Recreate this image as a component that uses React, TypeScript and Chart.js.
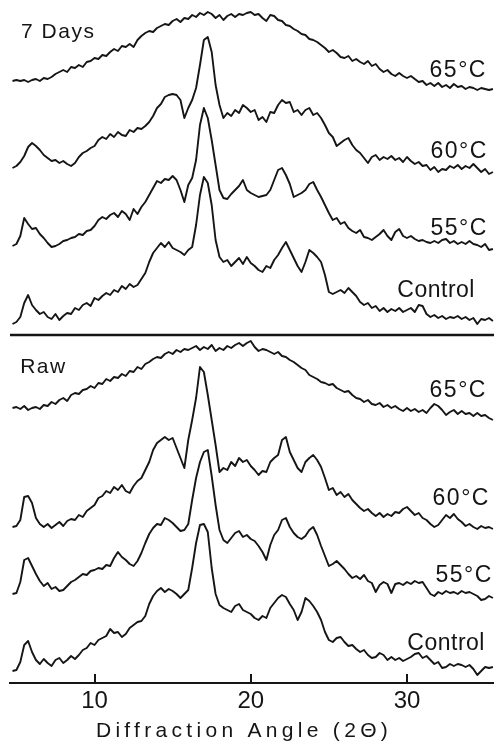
import { useEffect, useRef } from 'react';
import { Chart, registerables } from 'chart.js';

Chart.register(...registerables);

// Diffraction angle (2θ) sampling grid
const ANGLES = [
  4.75,
  5, 5.25, 5.5, 5.75, 6, 6.25, 6.5, 6.75, 7, 7.25, 7.5, 7.75, 8, 8.25, 8.5, 8.75,
  9, 9.25, 9.5, 9.75, 10, 10.25, 10.5, 10.75, 11, 11.25, 11.5, 11.75, 12, 12.25, 12.5, 12.75,
  13, 13.25, 13.5, 13.75, 14, 14.25, 14.5, 14.75, 15, 15.25, 15.5, 15.75, 16, 16.25, 16.5, 16.75,
  17, 17.25, 17.5, 17.75, 18, 18.25, 18.5, 18.75, 19, 19.25, 19.5, 19.75, 20, 20.25, 20.5, 20.75,
  21, 21.25, 21.5, 21.75, 22, 22.25, 22.5, 22.75, 23, 23.25, 23.5, 23.75, 24, 24.25, 24.5, 24.75,
  25, 25.25, 25.5, 25.75, 26, 26.25, 26.5, 26.75, 27, 27.25, 27.5, 27.75, 28, 28.25, 28.5, 28.75,
  29, 29.25, 29.5, 29.75, 30, 30.25, 30.5, 30.75, 31, 31.25, 31.5, 31.75, 32, 32.25, 32.5, 32.75,
  33, 33.25, 33.5, 33.75, 34, 34.25, 34.5, 34.75, 35, 35.25, 35.5,
];

// 7 days panel (relative intensity)
const DAYS7_65C = [
  14,
  15, 14, 15, 13, 15, 16, 14, 17, 16, 18, 21, 23, 25, 23, 28, 27,
  30, 28, 33, 34, 37, 36, 40, 39, 43, 46, 44, 49, 48, 51, 48, 55,
  59, 62, 64, 63, 67, 69, 71, 70, 74, 76, 73, 77, 76, 80, 78, 82,
  80, 83, 81, 77, 80, 75, 79, 81, 78, 81, 80, 82, 83, 80, 81, 77,
  74, 80, 79, 75, 74, 70, 69, 66, 64, 61, 60, 56, 55, 53, 50, 47,
  43, 45, 42, 38, 37, 39, 34, 36, 33, 31, 34, 29, 31, 26, 23, 25,
  21, 19, 22, 19, 17, 19, 16, 13, 14, 10, 12, 9, 12, 8, 10, 7,
  11, 8, 9, 6, 8, 7, 5, 7, 6, 5, 6,
];
const DAYS7_60C = [
  12,
  14, 18, 24, 33, 37, 34, 30, 25, 22, 19, 20, 17, 19, 16, 14, 17,
  23, 27, 29, 32, 34, 40, 43, 41, 46, 43, 48, 45, 44, 50, 48, 52,
  51, 54, 58, 64, 72, 76, 83, 85, 86, 85, 80, 62, 72, 80, 92, 115,
  140, 143, 128, 95, 75, 62, 67, 64, 70, 67, 75, 72, 68, 70, 60, 63,
  58, 68, 67, 75, 80, 77, 78, 68, 70, 65, 70, 72, 65, 67, 62, 55,
  47, 43, 34, 37, 40, 42, 35, 30, 27, 22, 17, 23, 25, 20, 23, 21,
  24, 20, 22, 18, 23, 19, 16, 18, 14, 15, 10, 13, 8, 11, 10, 14,
  12, 15, 11, 14, 12, 16, 12, 8, 11, 6, 8,
];
const DAYS7_55C = [
  9,
  11, 19, 37, 31, 26, 27, 21, 17, 12, 8, 9, 11, 14, 15, 17, 18,
  21, 20, 24, 25, 29, 35, 38, 36, 40, 42, 38, 44, 41, 35, 46, 41,
  48, 53, 60, 67, 74, 72, 76, 75, 79, 75, 65, 53, 70, 77, 95, 130,
  147, 137, 115, 90, 65, 57, 56, 61, 65, 69, 75, 65, 62, 60, 58, 59,
  60, 65, 75, 85, 87, 80, 71, 58, 60, 62, 65, 71, 73, 65, 58, 50,
  42, 35, 37, 31, 33, 27, 24, 22, 25, 18, 17, 15, 18, 21, 25, 19,
  15, 23, 26, 19, 17, 19, 16, 14, 15, 13, 12, 14, 12, 15, 16, 12,
  14, 11, 13, 11, 14, 11, 10, 8, 11, 5, 6,
];
const DAYS7_CONTROL = [
  6,
  8, 13, 27, 35, 25, 20, 16, 18, 13, 11, 16, 10, 14, 17, 16, 22,
  20, 25, 27, 24, 32, 30, 34, 37, 35, 40, 38, 44, 41, 46, 43, 45,
  51, 57, 68, 77, 82, 87, 83, 88, 82, 80, 78, 75, 80, 83, 105, 135,
  153, 147, 125, 90, 73, 68, 70, 64, 68, 72, 66, 73, 67, 64, 60, 58,
  64, 62, 70, 75, 82, 88, 80, 72, 64, 58, 68, 80, 77, 73, 68, 55,
  38, 36, 38, 40, 37, 42, 38, 34, 28, 25, 27, 22, 24, 19, 22, 18,
  21, 19, 22, 18, 20, 22, 18, 25, 24, 16, 13, 15, 12, 14, 11, 13,
  12, 14, 11, 13, 10, 12, 6, 11, 10, 12, 9,
];

// Raw panel (relative intensity)
const RAW_65C = [
  17,
  18, 16, 19, 15, 17, 18, 16, 20, 19, 23, 21, 25, 27, 24, 30, 32,
  31, 35, 36, 39, 37, 42, 41, 46, 44, 48, 47, 51, 49, 54, 53, 58,
  56, 61, 63, 66, 68, 67, 71, 73, 71, 75, 73, 76, 75, 77, 79, 75,
  78, 76, 80, 74, 77, 75, 79, 77, 80, 82, 79, 82, 84, 78, 74, 76,
  75, 73, 71, 73, 69, 68, 65, 63, 60, 57, 55, 50, 48, 46, 43, 42,
  40, 41, 37, 35, 33, 34, 30, 27, 26, 23, 25, 21, 20, 22, 18, 20,
  17, 19, 16, 14, 17, 14, 16, 13, 15, 12, 17, 21, 19, 15, 10, 13,
  15, 11, 14, 11, 12, 9, 12, 9, 10, 7, 5,
];
const RAW_60C = [
  8,
  9, 15, 38, 39, 32, 17, 11, 8, 11, 7, 10, 13, 9, 14, 16, 15,
  20, 18, 24, 27, 30, 37, 39, 44, 42, 48, 45, 50, 44, 42, 49, 54,
  57, 65, 73, 85, 92, 95, 98, 95, 97, 87, 77, 67, 95, 115, 137, 168,
  163, 140, 115, 90, 63, 67, 65, 73, 69, 77, 73, 75, 69, 65, 60, 64,
  63, 73, 77, 80, 95, 98, 83, 75, 67, 63, 73, 77, 80, 75, 68, 57,
  45, 47, 40, 43, 38, 41, 35, 31, 27, 24, 26, 22, 19, 22, 18, 21,
  19, 23, 22, 26, 28, 24, 20, 22, 17, 15, 11, 8, 10, 15, 20, 17,
  21, 16, 13, 9, 11, 8, 6, 9, 7, 8, 6,
];
const RAW_55C = [
  11,
  12, 23, 45, 47, 39, 31, 24, 19, 22, 16, 18, 14, 15, 19, 23, 25,
  28, 31, 30, 34, 35, 37, 36, 40, 39, 47, 53, 48, 45, 41, 39, 44,
  52, 62, 71, 77, 81, 80, 87, 85, 82, 78, 74, 75, 81, 105, 127, 143,
  153, 155, 129, 100, 75, 65, 62, 67, 72, 74, 68, 70, 66, 64, 59, 53,
  45, 60, 70, 75, 85, 87, 78, 72, 68, 66, 69, 75, 78, 70, 59, 49,
  39, 41, 44, 40, 36, 31, 27, 29, 26, 30, 24, 22, 13, 20, 23, 21,
  12, 21, 22, 20, 23, 21, 24, 22, 23, 17, 11, 9, 13, 11, 14, 12,
  13, 11, 14, 12, 13, 11, 9, 5, 6, 9, 7,
];
const RAW_CONTROL = [
  9,
  10, 18, 35, 39, 28, 20, 16, 21, 17, 14, 20, 22, 17, 20, 24, 21,
  25, 30, 32, 37, 35, 40, 42, 44, 51, 47, 48, 43, 46, 52, 55, 58,
  59, 64, 76, 84, 89, 92, 88, 91, 89, 86, 82, 86, 90, 112, 137, 155,
  156, 148, 112, 86, 75, 72, 70, 68, 74, 76, 70, 68, 66, 62, 60, 64,
  62, 72, 77, 82, 85, 83, 76, 70, 60, 68, 82, 79, 74, 68, 60, 48,
  40, 38, 42, 43, 38, 34, 35, 31, 28, 30, 25, 22, 23, 27, 25, 20,
  23, 20, 22, 19, 21, 23, 26, 27, 22, 24, 20, 16, 18, 12, 13, 16,
  14, 16, 15, 13, 15, 11, 5, 9, 13, 12, 13,
];

const SERIES = [DAYS7_65C, DAYS7_60C, DAYS7_55C, DAYS7_CONTROL, RAW_65C, RAW_60C, RAW_55C, RAW_CONTROL];
const SERIES_NAMES = ['7 Days 65°C', '7 Days 60°C', '7 Days 55°C', '7 Days Control', 'Raw 65°C', 'Raw 60°C', 'Raw 55°C', 'Raw Control'];
// vertical stacking offsets of each trace
const OFFSETS = [588, 503, 428, 353, 258, 148, 78, 3];

// trace labels: [text, right-edge angle, baseline value]
const TRACE_LABELS: [string, number, number][] = [
  ['65°C', 35.12, 606],
  ['60°C', 35.18, 525],
  ['55°C', 35.18, 448],
  ['Control', 34.35, 386],
  ['65°C', 35.12, 286],
  ['60°C', 35.31, 178],
  ['55°C', 35.5, 101],
  ['Control', 34.99, 33],
];
// panel titles: [text, left angle, baseline value]
const PANEL_TITLES: [string, number, number][] = [
  ['7 Days', 5.30, 645],
  ['Raw', 5.24, 310],
];
const PANEL_DIVIDER = 348;
const X_TICKS = [10, 20, 30];
const X_MIN = 4.59;
const X_MAX = 35.57;
const Y_MAX = 683;
const X_TITLE = 'Diffraction Angle (2Θ)';

const INK = '#151515';
const FONT = '"Liberation Sans", Arial, sans-serif';

const decorations = {
  id: 'decorations',
  afterDraw(chart: any) {
    const { ctx, chartArea, scales } = chart;
    const x = scales.x;
    const y = scales.y;
    ctx.save();
    ctx.strokeStyle = INK;
    ctx.fillStyle = INK;
    // panel divider
    ctx.lineWidth = 2.5;
    const yd = y.getPixelForValue(PANEL_DIVIDER);
    ctx.beginPath();
    ctx.moveTo(chartArea.left, yd);
    ctx.lineTo(chartArea.right, yd);
    ctx.stroke();
    // inward tick marks on the bottom axis
    const yb = y.getPixelForValue(0);
    X_TICKS.forEach((t) => {
      const px = Math.round(x.getPixelForValue(t));
      ctx.fillRect(px - 1, yb - 9, 2, 9);
    });
    // trace labels
    ctx.textBaseline = 'alphabetic';
    ctx.font = `23px ${FONT}`;
    ctx.textAlign = 'right';
    TRACE_LABELS.forEach(([text, a, v]) => {
      (ctx as any).letterSpacing = text === 'Control' ? '0.5px' : '1.5px';
      ctx.fillText(text, x.getPixelForValue(a), y.getPixelForValue(v));
    });
    // panel titles
    ctx.font = `21px ${FONT}`;
    ctx.textAlign = 'left';
    PANEL_TITLES.forEach(([text, a, v]) => {
      (ctx as any).letterSpacing = '1.5px';
      ctx.fillText(text, x.getPixelForValue(a), y.getPixelForValue(v));
    });
    // x-axis title
    ctx.font = `21px ${FONT}`;
    ctx.textAlign = 'center';
    (ctx as any).letterSpacing = '4.3px';
    ctx.fillText(X_TITLE, (chartArea.left + chartArea.right) / 2 - 8, yb + 54);
    ctx.restore();
  },
};

export default function App() {
  const ref = useRef<HTMLCanvasElement>(null);
  useEffect(() => {
    if (!ref.current) return;
    const chart = new Chart(ref.current, {
      type: 'line',
      data: {
        datasets: SERIES.map((vals, k) => ({
          label: SERIES_NAMES[k],
          data: ANGLES.map((a, i) => ({ x: a, y: OFFSETS[k] + vals[i] })),
          borderColor: INK,
          borderWidth: 1.9,
          pointRadius: 0,
          tension: 0,
          fill: false,
          borderJoinStyle: 'round' as const,
        })),
      },
      options: {
        animation: false,
        responsive: true,
        maintainAspectRatio: false,
        devicePixelRatio: 1,
        events: [],
        layout: { padding: { left: 10, right: 0, top: 0, bottom: 27.2 } },
        plugins: { legend: { display: false }, tooltip: { enabled: false }, title: { display: false } },
        scales: {
          x: {
            type: 'linear',
            min: X_MIN,
            max: X_MAX,
            afterBuildTicks: (scale: any) => {
              scale.ticks = X_TICKS.map((v) => ({ value: v }));
            },
            grid: { display: false, drawTicks: false },
            border: { display: true, color: INK, width: 2 },
            ticks: {
              color: INK,
              padding: 4,
              maxRotation: 0,
              font: { family: FONT, size: 24 },
              callback: (v: any) => String(v),
            },
          },
          y: {
            type: 'linear',
            display: false,
            min: 0,
            max: Y_MAX,
          },
        },
      },
      plugins: [decorations],
    });
    return () => chart.destroy();
  }, []);
  return (
    <div style={{ position: 'fixed', left: 0, top: 0, width: 494, height: 747, background: '#fff' }}>
      <canvas ref={ref} />
    </div>
  );
}
